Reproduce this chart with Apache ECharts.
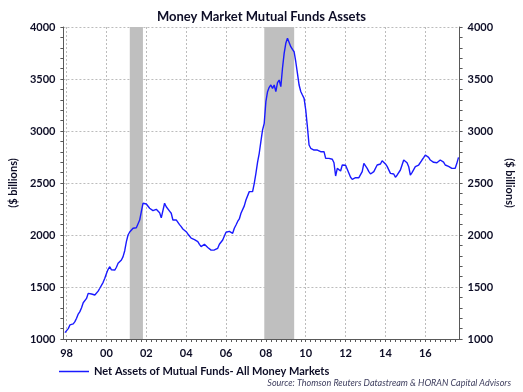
<!DOCTYPE html>
<html>
<head>
<meta charset="utf-8">
<script src="https://cdn.jsdelivr.net/npm/echarts@6/dist/echarts.min.js"></script>
<style>
html,body{margin:0;padding:0;background:#fff;}
#chart{width:523px;height:392px;}
</style>
</head>
<body>
<div id="chart"></div>
<script>
// Monthly series starts Dec 1997
const startYear = 1997;
const startMonth = 12;
const assets = [
1061,1080,1100,1135,1140,1146,1167,1200,1240,1263,1300,1349,
1355,1390,1439,1436,1433,1425,1423,1430,1460,1488,1503,1545,
1584,1630,1670,1695,1665,1680,1663,1690,1728,1734,1760,1792,
1849,1936,2000,2029,2039,2065,2055,2070,2080,2144,2224,2305,
2298,2298,2305,2257,2245,2234,2215,2247,2230,2215,2165,2176,
2305,2272,2266,2230,2209,2144,2154,2145,2138,2100,2080,2058,
2045,2032,2010,1990,1970,1959,1955,1952,1936,1910,1888,1900,
1911,1894,1880,1872,1855,1840,1856,1865,1872,1911,1914,1952,
1990,2026,2039,2035,2032,2016,2065,2096,2130,2154,2209,2224,
2280,2337,2343,2417,2417,2417,2497,2593,2700,2786,2900,3010,
3074,3282,3378,3420,3442,3410,3442,3378,3465,3490,3426,3603,
3747,3843,3891,3885,3811,3785,3762,3666,3555,3442,3380,3346,
3314,3202,3041,2865,2834,2830,2817,2817,2817,2834,2801,2817,
2801,2737,2737,2737,2730,2728,2695,2567,2641,2625,2615,2673,
2689,2670,2657,2593,2555,2535,2519,2551,2551,2551,2551,2609,
2689,2689,2640,2609,2587,2593,2610,2625,2673,2678,2683,2714,
2700,2683,2660,2641,2593,2590,2587,2555,2575,2593,2625,2673,
2721,2710,2695,2657,2577,2600,2618,2657,2665,2673,2673,2721,
2744,2769,2776,2747,2721,2710,2699,2712,2695,2680,2721,2728,
2700,2673,2657,2660,2663,2641,2650,2641,2689,2747
];
// Recessions (decimal years)
const recessions = [[2001.17, 2001.83], [2007.92, 2009.42]];
const yearLabels = [1998, 2000, 2002, 2004, 2006, 2008, 2010, 2012, 2014, 2016];
const seriesName = 'Net Assets of Mutual Funds- All Money Markets';
const titleText = 'Money Market Mutual Funds Assets';
const sourceText = 'Source: Thomson Reuters Datastream & HORAN Capital Advisors';
const yName = '($ billions)';

const data = assets.map((v, i) => [startYear + (startMonth - 1) / 12 + i / 12, v]);
const quarterTicks = [];
for (let q = 1998; q <= 2017.5; q += 0.25) quarterTicks.push(q);

const FONT = 'Lato';
const txtColor = '#0d0d26';
const axisColor = '#595959';
function gridLine() {
  return { show: true, lineStyle: { color: '#bcbcbc', type: [2, 2], width: 1, opacity: 1 } };
}

const chart = echarts.init(document.getElementById('chart'), null, { renderer: 'canvas' });
chart.setOption({
  animation: false,
  backgroundColor: '#fff',
  title: {
    text: titleText, left: 'center', top: 5,
    textStyle: { fontFamily: FONT, fontWeight: 'bold', fontSize: 13, color: txtColor }
  },
  legend: {
    left: 54, top: 361, itemWidth: 30, itemHeight: 2,
    textStyle: { fontFamily: FONT, fontWeight: 'bold', fontSize: 11, color: txtColor },
    data: [{ name: seriesName, icon: 'path://M0,0 L30,0 L30,1.5 L0,1.5 Z' }]
  },
  graphic: [{
    type: 'text', right: 12, top: 379,
    style: { text: sourceText, font: 'italic 9px ' + FONT, fill: '#404060' }
  }],
  grid: { left: 56, right: 56, top: 27, bottom: 53 },
  xAxis: [{
    type: 'value', min: 1997.84, max: 2017.72, position: 'bottom',
    axisLine: { show: true, onZero: false, lineStyle: { color: axisColor } },
    axisTick: { show: true, inside: false, length: 3, customValues: quarterTicks, lineStyle: { color: axisColor } },
    axisLabel: {
      customValues: yearLabels, margin: 9,
      formatter: v => String(Math.round(v) % 100).padStart(2, '0'),
      fontFamily: FONT, fontWeight: 'bold', fontSize: 11, color: txtColor
    },
    splitLine: { show: false }
  }, {
    type: 'value', min: 1997.84, max: 2017.72, position: 'top',
    axisLine: { show: false }, axisLabel: { show: false },
    axisTick: { show: false, customValues: yearLabels },
    splitLine: gridLine()
  }],
  yAxis: [0, 1].map(k => ({
    type: 'value', min: 1000, max: 4000, interval: 500,
    position: k === 0 ? 'left' : 'right',
    name: yName, nameLocation: 'middle', nameGap: 40, nameRotate: k === 0 ? 90 : -90,
    nameTextStyle: { fontFamily: FONT, fontWeight: 'bold', fontSize: 11, color: txtColor },
    axisLine: { show: true, lineStyle: { color: axisColor } },
    axisTick: { show: true, length: 3, lineStyle: { color: axisColor } },
    minorTick: { show: true, splitNumber: 5, length: 3, lineStyle: { color: axisColor } },
    axisLabel: {
      margin: 8, formatter: v => String(v),
      fontFamily: FONT, fontWeight: 'bold', fontSize: 11, color: txtColor
    },
    splitLine: k === 0 ? gridLine() : { show: false }
  })),
  series: [{
    name: seriesName, type: 'line', data: data, showSymbol: false,
    lineStyle: { color: '#1a1aff', width: 1.4 }, itemStyle: { color: '#1a1aff' },
    markArea: {
      silent: true, itemStyle: { color: '#bfbfbf' },
      data: recessions.map(r => [{ xAxis: r[0] }, { xAxis: r[1] }])
    },
    z: 3
  }]
});
</script>
</body>
</html>
